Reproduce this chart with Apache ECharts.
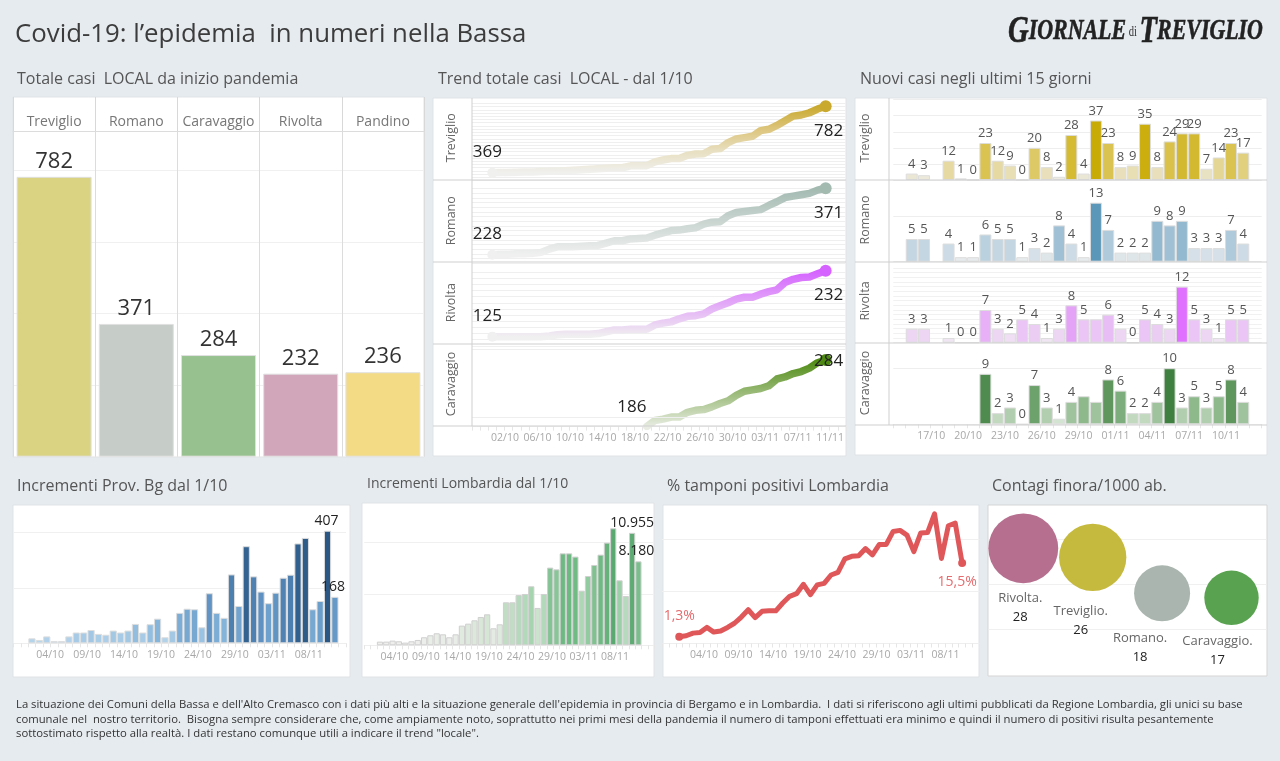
<!DOCTYPE html>
<html lang="it">
<head>
<meta charset="utf-8">
<title>Covid-19 nella Bassa</title>
<script src="https://cdn.jsdelivr.net/npm/echarts@6/dist/echarts.min.js"></script>
<style>
  html, body { margin: 0; padding: 0; background: #e6ebef; }
  #chart { width: 1280px; height: 761px; }
</style>
</head>
<body>
<div id="chart"></div>
<script>
// totals
const towns = ['Treviglio', 'Romano', 'Caravaggio', 'Rivolta', 'Pandino'];
const totals = [782, 371, 284, 232, 236];

// x axis of the trend chart and of the bottom charts (two empty days each side)
const days = ['29/09', '30/09', '01/10', '02/10', '03/10', '04/10', '05/10', '06/10', '07/10', '08/10', '09/10', '10/10',
  '11/10', '12/10', '13/10', '14/10', '15/10', '16/10', '17/10', '18/10', '19/10', '20/10', '21/10', '22/10', '23/10',
  '24/10', '25/10', '26/10', '27/10', '28/10', '29/10', '30/10', '31/10', '01/11', '02/11', '03/11', '04/11', '05/11',
  '06/11', '07/11', '08/11', '09/11', '10/11', '11/11', '12/11', '13/11'];
const rowNames = ['Treviglio', 'Romano', 'Rivolta', 'Caravaggio'];

// cumulative cases from 1/10 to 11/11
const trendTreviglio = [369, 370, 371, 372, 373, 374, 376, 378, 380, 382, 385, 387, 390, 393, 397, 400, 400, 412, 413, 413, 436,
  448, 457, 457, 477, 485, 487, 515, 519, 556, 579, 587, 596, 631, 639, 663, 692, 721, 728, 742, 765, 782];
const trendRomano = [228, 229, 229, 230, 230, 231, 233, 240, 245, 245, 245, 246, 247, 248, 253, 258, 258, 262, 263, 264, 270,
  275, 280, 281, 284, 286, 294, 298, 299, 312, 319, 321, 323, 325, 334, 342, 351, 354, 357, 360, 367, 371];
const trendRivolta = [125, 125, 125, 125, 125, 125, 125, 126, 128, 129, 129, 129, 129, 130, 133, 136, 136, 137, 137, 137, 144,
  147, 149, 154, 158, 159, 162, 170, 175, 180, 186, 189, 189, 194, 198, 201, 213, 218, 221, 222, 227, 232];
const trendCaravaggio = [null, null, null, null, null, null, null, null, null, null, null, null, null, null, null, null, null, null, null,
  186, 195, 197, 200, 200, 207, 210, 211, 215, 220, 224, 232, 238, 240, 242, 246, 256, 259, 264, 267, 272, 280, 284];

// new cases, 14/10 to 12/11
const newDays = ['14/10', '15/10', '16/10', '17/10', '18/10', '19/10', '20/10', '21/10', '22/10', '23/10', '24/10', '25/10', '26/10',
  '27/10', '28/10', '29/10', '30/10', '31/10', '01/11', '02/11', '03/11', '04/11', '05/11', '06/11', '07/11', '08/11', '09/11',
  '10/11', '11/11', '12/11'];
const newTreviglio = [null, 4, 3, null, 12, 1, 0, 23, 12, 9, 0, 20, 8, 2, 28, 4, 37, 23, 8, 9, 35, 8, 24, 29, 29, 7, 14, 23, 17, null];
const newRomano = [null, 5, 5, null, 4, 1, 1, 6, 5, 5, 1, 3, 2, 8, 4, 1, 13, 7, 2, 2, 2, 9, 8, 9, 3, 3, 3, 7, 4, null];
const newRivolta = [null, 3, 3, null, 1, 0, 0, 7, 3, 2, 5, 4, 1, 3, 8, 5, 5, 6, 3, 0, 5, 4, 3, 12, 5, 3, 1, 5, 5, null];
const newCaravaggio = [null, null, null, null, null, null, null, 9, 2, 3, 0, 7, 3, 1, 4, 5, 4, 8, 6, 2, 2, 4, 10, 3, 5, 3, 5, 8, 4, null];

// daily figures from 1/10 to 11/11
const dailyBergamo = [18, 12, 25, 8, 8, 25, 39, 39, 48, 34, 31, 46, 39, 46, 70, 39, 69, 89, 22, 46, 110, 125, 123, 58, 181, 110, 92,
  249, 135, 351, 242, 187, 145, 183, 237, 248, 361, 381, 123, 153, 407, 168];
const dailyLombardia = [357, 357, 455, 390, 260, 390, 520, 780, 975, 1170, 1070, 780, 1070, 1916, 2110, 2435, 2760, 3020, 1656, 2046,
  4190, 4190, 4900, 5000, 5750, 3640, 5000, 7570, 7400, 8960, 8960, 8640, 5320, 6750, 7825, 8830, 10000, 11400, 6330, 4800, 10955, 8180];
const positivePct = [1.3, 1.5, 2.0, 2.1, 3.1, 2.2, 2.4, 3.1, 3.9, 5.1, 6.5, 5.0, 6.2, 6.3, 6.3, 7.8, 9.1, 9.6, 11.4, 9.4, 11.3, 11.6,
  13.2, 13.7, 16.3, 16.8, 16.9, 18.3, 17.1, 19.1, 19.1, 21.6, 21.8, 20.9, 17.7, 21.3, 21.4, 25.0, 16.4, 22.7, 23.2, 15.5];

// cases per 1000 inhabitants
const bubbleTowns = ['Rivolta.', 'Treviglio.', 'Romano.', 'Caravaggio.'];
const bubbleValues = [28, 26, 18, 17];

const FONT = '"Open Sans", "Noto Sans", sans-serif';
const totalColors = ['#d9d382', '#c6cdc8', '#97c28f', '#d2a6ba', '#f3db85'];
const bubbleColors = ['#b76f8f', '#c5b93e', '#a9b5ae', '#59a250'];

const grids = [], xAxes = [], yAxes = [], series = [], visualMaps = [];

function addGrid(box, xAxis, yAxis) {
  const idx = grids.length;
  grids.push(box);
  xAxes.push(Object.assign({ gridIndex: idx, type: 'category', splitLine: { show: false } }, xAxis));
  yAxes.push(Object.assign({ gridIndex: idx, type: 'value', axisLabel: { show: false }, axisTick: { show: false }, axisLine: { show: false } }, yAxis));
  return idx;
}

function gridLines(color) {
  return { show: true, showMaxLine: false, lineStyle: { color: color || '#f0f0f0', width: 1 } };
}

function dateAxis(cats, keep, padding, show) {
  return {
    data: cats,
    show: show,
    axisLine: { lineStyle: { color: '#eeeeee' } },
    axisTick: { show: true, interval: 0, length: 4, lineStyle: { color: '#e6e6e6' } },
    axisLabel: {
      interval: keep, padding: padding, color: '#a8a8a8', fontSize: 10.5, fontFamily: FONT, margin: 6
    }
  };
}

function colorByValue(seriesIndex, min, max, colors) {
  visualMaps.push({ show: false, type: 'continuous', seriesIndex: seriesIndex, min: min, max: max, inRange: { color: colors } });
}

const pad = v => [null, null].concat(v, [null, null]);

// --- total cases
let g = addGrid({ left: 13, top: 131, width: 411, height: 325.7 }, {
  data: towns, position: 'top',
  axisLine: { onZero: false, lineStyle: { color: '#dcdcdc' } },
  axisTick: { show: true, length: 34, lineStyle: { color: '#d8d8d8' } },
  axisLabel: { color: '#777', fontSize: 14, fontFamily: FONT, margin: 2, interval: 0 },
  splitLine: { show: true, lineStyle: { color: '#dcdcdc' } }
}, { min: 0, max: 910, interval: 200, splitLine: gridLines() });
series.push({
  type: 'bar', xAxisIndex: g, yAxisIndex: g, barWidth: 75,
  data: totals.map((v, i) => ({ value: v, itemStyle: { color: totalColors[i] } })),
  itemStyle: { borderColor: '#e0e0e0', borderWidth: 1 },
  label: { show: true, position: 'top', distance: 4, fontSize: 22, color: '#333', fontFamily: FONT }
});

// --- trend rows
const trendRows = [
  { v: trendTreviglio, top: 100.2, bottom: 180.6, min: 320, max: 820, step: 20, colors: ['#f0f0ee', '#e8dfc0', '#dcc47a', '#c9a92e'], first: [-5, -2], last: [3, 5] },
  { v: trendRomano, top: 184.1, bottom: 263.05, min: 210, max: 380, step: 10, colors: ['#f0f0f0', '#a3bab1'], first: [-5, -2], last: [3, 5] },
  { v: trendRivolta, top: 265.8, bottom: 345.9, min: 110, max: 240, step: 10, colors: ['#f0f0f0', '#d562ff'], first: [-5, -2], last: [3, 5] },
  { v: trendCaravaggio, top: 349.1, bottom: 426.6, min: 186, max: 300, colors: ['#e8ece2', '#4e8a12'], first: [-15, -6], last: [3, 21] }
];
trendRows.forEach((r, row) => {
  const isLast = row === trendRows.length - 1;
  const keep = i => i >= 3 && (i - 3) % 4 === 0;
  const yAxis = r.step
    ? { min: r.min, max: r.max, interval: r.step, splitLine: gridLines('#efefef') }
    : { min: r.min, max: r.max, splitLine: { show: false } };
  g = addGrid({ left: 472, top: r.top, width: 374, height: r.bottom - r.top }, dateAxis(days, keep, [0, 0, 0, 9], isLast), yAxis);
  const vals = pad(r.v);
  const firstIdx = vals.findIndex(x => x !== null);
  const lastIdx = vals.length - 3;
  const labelText = { show: true, fontSize: 17, color: '#222', fontFamily: FONT };
  const s = {
    type: 'line', xAxisIndex: g, yAxisIndex: g, clip: !!isLast,
    showAllSymbol: true, symbol: 'circle',
    symbolSize: (val, p) => p.dataIndex === lastIdx ? 12 : (p.dataIndex === firstIdx && !isLast ? 10 : 0),
    lineStyle: { width: 7.5, cap: 'round', join: 'round' },
    data: vals.map((v, i) => {
      if (i === firstIdx) return { value: v, label: Object.assign({ position: 'top', offset: r.first }, labelText) };
      if (i === lastIdx) return { value: v, label: Object.assign({ position: 'bottom', offset: r.last }, labelText) };
      return v;
    })
  };
  if (isLast) {
    s.data[lastIdx].label.position = 'top';
    s.markLine = {
      silent: true, symbol: 'none', label: { show: false }, animation: false,
      lineStyle: { color: '#eeeeee', type: 'solid', width: 1 },
      data: [{ yAxis: 200 }, { yAxis: 300 }]
    };
  }
  colorByValue(series.length, r.v.find(x => x !== null), r.v[r.v.length - 1], r.colors);
  series.push(s);
});

// --- new cases rows
const newRows = [
  { v: newTreviglio, top: 98, bottom: 180, max: 51, step: 10, hidden: [], colors: ['#eeeeee', '#e6d9a0', '#d9c045', '#c9ab05'] },
  { v: newRomano, top: 180, bottom: 261.7, max: 18, step: 10, hidden: [], colors: ['#f0f0f0', '#b5cede', '#5b97b8'] },
  { v: newRivolta, top: 263.3, bottom: 342.7, max: 17, step: 1, hidden: [16], colors: ['#f2eef3', '#e8bdf5', '#e070ff'] },
  { v: newCaravaggio, top: 343, bottom: 424.3, max: 14.5, step: 10, hidden: [15, 16], colors: ['#e6efe4', '#8db98b', '#3f7f3f'] }
];
newRows.forEach((r, row) => {
  const isLast = row === newRows.length - 1;
  const keep = i => i >= 3 && i <= 27 && (i - 3) % 3 === 0;
  g = addGrid({ left: 893.3, top: r.top, width: 368.4, height: r.bottom - r.top }, dateAxis(newDays, keep, [0, 10, 0, 0], isLast),
    { min: 0, max: r.max, interval: r.step, splitLine: gridLines(r.step === 1 ? '#f1f1f1' : '#eeeeee') });
  colorByValue(series.length, 0, Math.max.apply(null, r.v), r.colors);
  series.push({
    type: 'bar', xAxisIndex: g, yAxisIndex: g, barWidth: 12,
    itemStyle: { borderColor: '#dddddd', borderWidth: 1 },
    label: { show: true, position: 'top', distance: 3, fontSize: 13, color: '#555', fontFamily: FONT },
    data: r.v.map((v, i) => r.hidden.indexOf(i) >= 0 ? { value: v, label: { show: false } } : v)
  });
});

// --- Bergamo increments
const keepFive = i => i >= 5 && i <= 40 && (i - 5) % 5 === 0;
g = addGrid({ left: 13.5, top: 505, width: 332.5, height: 138.3 }, dateAxis(days.slice(0, 45), keepFive, [0, 8, 0, 0], true),
  { min: 0, max: 500, interval: 200, splitLine: gridLines() });
colorByValue(series.length, 0, 400, ['#c0dcef', '#7fb0d8', '#5a8ebf', '#3f6f9f', '#2a5783']);
series.push({
  type: 'bar', xAxisIndex: g, yAxisIndex: g, barWidth: 7.2,
  itemStyle: { borderColor: '#dddddd', borderWidth: 1 },
  data: pad(dailyBergamo.slice(0)).slice(0, 45).map((v, i) => {
    const pos = i - 2;
    if (pos === dailyBergamo.length - 2) return { value: v, label: { show: true, position: 'top', offset: [-1, 2], fontSize: 14, color: '#222', fontFamily: FONT } };
    if (pos === dailyBergamo.length - 1) return { value: v, label: { show: true, position: 'top', offset: [-2, 2.5], fontSize: 14, color: '#222', fontFamily: FONT } };
    return v;
  })
});

// --- Lombardia increments
g = addGrid({ left: 364.2, top: 501.6, width: 290, height: 143.7 }, dateAxis(days, keepFive, [0, 9, 0, 0], true),
  { min: 0, max: 14000, interval: 5000, splitLine: gridLines() });
colorByValue(series.length, 300, 11400, ['#f0f0ee', '#d5e6d5', '#a3d3ae', '#70bb84', '#5aa971']);
series.push({
  type: 'bar', xAxisIndex: g, yAxisIndex: g, barWidth: 6.2,
  itemStyle: { borderColor: '#cfcfcf', borderWidth: 1 },
  data: pad(dailyLombardia).map((v, i) => {
    const pos = i - 2;
    if (pos === dailyLombardia.length - 2) return { value: v, label: { show: true, formatter: '10.955', position: 'top', offset: [0, 2], fontSize: 14, color: '#222', fontFamily: FONT } };
    if (pos === dailyLombardia.length - 1) return { value: v, label: { show: true, formatter: '8.180', position: 'top', offset: [-2, 2], fontSize: 14, color: '#222', fontFamily: FONT } };
    return v;
  })
});

// --- positive swabs
g = addGrid({ left: 662, top: 508.6, width: 317.4, height: 134.9 }, dateAxis(days, keepFive, [0, 0, 0, 8], true),
  { min: 0, max: 26, interval: 10, splitLine: gridLines() });
const pctVals = pad(positivePct);
series.push({
  type: 'line', xAxisIndex: g, yAxisIndex: g, showAllSymbol: true, symbol: 'circle',
  symbolSize: (val, p) => (p.dataIndex === 2 || p.dataIndex === 43) ? 8 : 0,
  lineStyle: { width: 5, color: '#e0575a', join: 'round', cap: 'round' },
  itemStyle: { color: '#e0575a' },
  data: pctVals.map((v, i) => {
    const text = { show: true, fontSize: 14, color: '#e56b6e', fontFamily: FONT, formatter: p => String(p.value).replace('.', ',') + '%' };
    if (i === 2) return { value: v, label: Object.assign({ position: 'top', offset: [0, -5] }, text) };
    if (i === 43) return { value: v, label: Object.assign({ position: 'bottom', offset: [-5, 3] }, text) };
    return v;
  })
});

// --- bubbles
g = addGrid({ left: 988.6, top: 503.3, width: 277.6, height: 171 }, { data: bubbleTowns, show: false },
  { min: 0, max: 38, interval: 10, splitLine: Object.assign(gridLines(), { showMinLine: false }) });
const bubbleOffsets = [[-3, 1], [-12, 6], [-22, 2], [-14, 2]];
series.push({
  type: 'scatter', xAxisIndex: g, yAxisIndex: g,
  symbolSize: v => 13.2 * Math.sqrt(v),
  data: bubbleValues.map((v, i) => ({
    value: v,
    itemStyle: { color: bubbleColors[i], opacity: 1 },
    label: { offset: bubbleOffsets[i] }
  })),
  label: {
    show: true, position: 'bottom', distance: 5,
    formatter: p => '{n|' + p.name + '}\n{v|' + p.value + '}',
    rich: {
      n: { fontSize: 13, color: '#666', fontFamily: FONT, lineHeight: 19 },
      v: { fontSize: 13, color: '#222', fontFamily: FONT, lineHeight: 19 }
    }
  }
});

// --- titles
const titleStyle = { color: '#555', fontSize: 16, fontWeight: 'normal', fontFamily: FONT };
const panelTitles = [
  ['Totale casi  LOCAL da inizio pandemia', 12, 66],
  ['Trend totale casi  LOCAL - dal 1/10', 433, 66],
  ['Nuovi casi negli ultimi 15 giorni', 855, 66],
  ['Incrementi Prov. Bg dal 1/10', 12, 473],
  ['Incrementi Lombardia dal 1/10', 362, 472],
  ['% tamponi positivi Lombardia', 662, 473],
  ['Contagi finora/1000 ab.', 987, 473]
];
const titles = [
  { text: 'Covid-19: l\u2019epidemia  in numeri nella Bassa', left: 10, top: 17, textStyle: { color: '#3c3c3c', fontSize: 25.8, fontWeight: 'normal', fontFamily: FONT } },
  {
    text: 'La situazione dei Comuni della Bassa e dell\'Alto Cremasco con i dati più alti e la situazione generale dell\'epidemia in provincia di Bergamo e in Lombardia.  I dati si riferiscono agli ultimi pubblicati da Regione Lombardia, gli unici su base\n' +
      'comunale nel  nostro territorio.  Bisogna sempre considerare che, come ampiamente noto, soprattutto nei primi mesi della pandemia il numero di tamponi effettuati era minimo e quindi il numero di positivi risulta pesantemente\n' +
      'sottostimato rispetto alla realtà. I dati restano comunque utili a indicare il trend "locale".',
    left: 11, top: 693,
    textStyle: { color: '#333', fontSize: 11.3, fontWeight: 'normal', fontFamily: FONT, lineHeight: 14.5 }
  }
].concat(panelTitles.map(t => ({ text: t[0], left: t[1], top: t[2], textStyle: t[1] === 362 ? Object.assign({}, titleStyle, { fontSize: 14 }) : titleStyle })));

// --- panel backgrounds, row separators and row names
const panels = [[13, 97, 411, 360], [433, 98, 413, 358], [855, 98, 412, 357], [13, 505, 337, 172], [362, 503, 292, 174], [663, 505, 316, 172], [988, 505, 279, 171]];
const graphics = panels.map((p, i) => ({
  type: 'rect', z: -10, shape: { x: p[0], y: p[1], width: p[2], height: p[3] },
  style: { fill: '#ffffff', stroke: i === 6 ? '#d5d5d5' : '#dfe3e6', lineWidth: 1 }
}));
function sepLine(x1, y1, x2, y2) {
  graphics.push({ type: 'line', z: 10, shape: { x1: x1, y1: y1, x2: x2, y2: y2 }, style: { stroke: '#cfcfcf', lineWidth: 1 } });
}
[180, 262, 344].forEach(y => sepLine(433, y, 846, y));
[180, 262, 343].forEach(y => sepLine(855, y, 1267, y));
sepLine(472, 98, 472, 426);
sepLine(889, 98, 889, 425);
sepLine(433, 426, 846, 426);
sepLine(855, 425, 1267, 425);
function rowName(text, x, y) {
  graphics.push({
    type: 'text', z: 10, x: x, y: y, rotation: Math.PI / 2,
    style: { text: text, align: 'center', verticalAlign: 'middle', fill: '#666', fontSize: 12.5, fontFamily: FONT }
  });
}
const rowCentersTrend = [137.7, 220.7, 302.7, 384];
const rowCentersNew = [138, 220, 301, 383];
rowNames.forEach((name, i) => {
  rowName(name, 451, rowCentersTrend[i]);
  rowName(name, 865.7, rowCentersNew[i]);
});

// masthead: condensed with a horizontal scale, no condensed serif is installed
const logoSerif = '"Liberation Serif", serif';
graphics.push({
  type: 'text', z: 10, x: 1008, y: 13, scaleX: 0.755,
  style: {
    text: '{a|G}{b|IORNALE}{c| di }{a|T}{b|REVIGLIO}',
    rich: {
      a: { fontSize: 38, fontWeight: 'bold', fontStyle: 'italic', fontFamily: logoSerif, fill: '#222', stroke: '#222', lineWidth: 0.6 },
      b: { fontSize: 29, fontWeight: 'bold', fontStyle: 'italic', fontFamily: logoSerif, fill: '#222', stroke: '#222', lineWidth: 0.6 },
      c: { fontSize: 14, fontFamily: logoSerif, fill: '#333' }
    }
  }
});

const myChart = echarts.init(document.getElementById('chart'));
myChart.setOption({
  animation: false,
  backgroundColor: '#e6ebef',
  title: titles,
  grid: grids,
  xAxis: xAxes,
  yAxis: yAxes,
  visualMap: visualMaps,
  series: series,
  graphic: graphics
});
</script>
</body>
</html>
